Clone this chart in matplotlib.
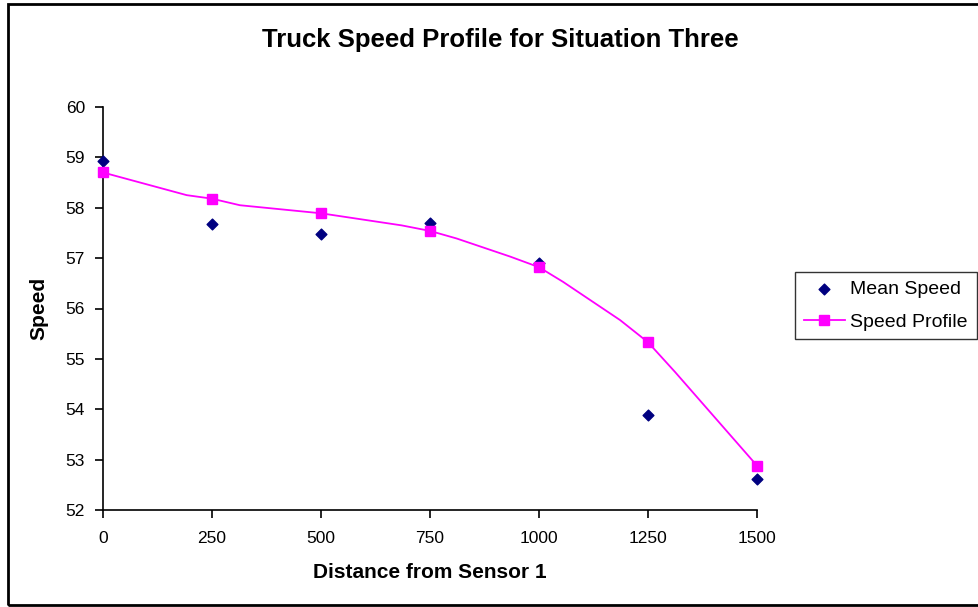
import matplotlib.pyplot as plt
from matplotlib.patches import Rectangle

plt.rcParams['font.family'] = ['Liberation Sans', 'DejaVu Sans']

distance = [0, 250, 500, 750, 1000, 1250, 1500]
mean_speed = [58.92, 57.67, 57.48, 57.69, 56.91, 53.89, 52.62]
profile_speed = [58.70, 58.18, 57.89, 57.54, 56.82, 55.33, 52.88]

# smoothed profile curve
curve_x = [0, 192, 250, 314, 500, 685, 750, 811, 934, 1000, 1055, 1186, 1250, 1312, 1500]
curve_y = [58.70, 58.25, 58.18, 58.05, 57.89, 57.65, 57.54, 57.39, 57.03, 56.82,
           56.53, 55.77, 55.33, 54.74, 52.88]

fig = plt.figure(figsize=(9.79, 6.07), dpi=100)
ax = fig.add_axes([103/979, 1-510/607, 654/979, 403/607])

ax.scatter(distance, mean_speed, marker='D', s=30, color='#000080', zorder=3,
           label='Mean Speed', clip_on=False)
ax.plot(curve_x, curve_y, color='#FF00FF', lw=1.3, zorder=2, clip_on=False)
ax.plot(distance, profile_speed, linestyle='none', marker='s', ms=7,
        color='#FF00FF', zorder=4, clip_on=False)
# legend proxy for line + marker
ax.plot([], [], color='#FF00FF', lw=1.3, marker='s', ms=7, label='Speed Profile')

ax.set_xlim(0, 1500)
ax.set_ylim(52, 60)
ax.set_xticks([0, 250, 500, 750, 1000, 1250, 1500])
ax.set_yticks(range(52, 61))
ax.spines['top'].set_visible(False)
ax.spines['right'].set_visible(False)
for s in ('left', 'bottom'):
    ax.spines[s].set_linewidth(1.2)
ax.tick_params(direction='out', length=6, width=1.2, labelsize=12.5)
ax.tick_params(axis='x', pad=9)
ax.tick_params(axis='y', pad=7)

ax.set_xlabel('Distance from Sensor 1', fontsize=15, fontweight='bold', labelpad=12)
ax.set_ylabel('Speed', fontsize=15, fontweight='bold', labelpad=12)
fig.text(500/979, 1-40/607, 'Truck Speed Profile for Situation Three',
         ha='center', va='center', fontsize=18.5, fontweight='bold')

leg = fig.legend(loc='upper left', bbox_to_anchor=(795/979, 1-272/607),
                 fontsize=14, frameon=True, fancybox=False, handlelength=2.1,
                 borderpad=0.45, labelspacing=0.75, handletextpad=0.3,
                 borderaxespad=0)
leg.get_frame().set_edgecolor('black')
leg.get_frame().set_linewidth(1)

fig.patches.append(Rectangle((8/979, 2/607), 1.0, 1-6/607, transform=fig.transFigure,
                             fill=False, edgecolor='black', lw=2))

fig.savefig('out.png', dpi=100)
